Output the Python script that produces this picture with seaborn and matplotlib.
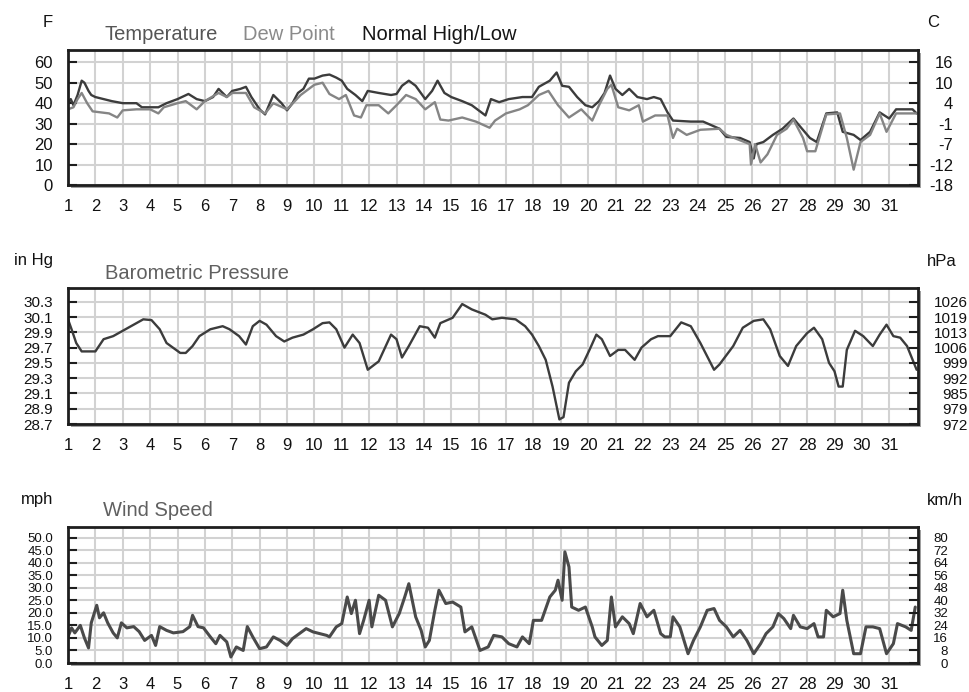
import numpy as np
import pandas as pd
import matplotlib
matplotlib.use("Agg")
import matplotlib.pyplot as plt
from matplotlib.patches import Rectangle
from matplotlib.ticker import FixedLocator, FuncFormatter
import seaborn as sns

# ---------------------------------------------------------------- data
days = list(range(1, 32))

temp_day = [1.0, 1.1, 1.2, 1.35, 1.5, 1.6, 1.75, 1.85, 2.0, 2.3, 2.6, 3.0, 3.5, 3.7, 4.0,
            4.3, 4.6, 5.0, 5.4, 5.7, 6.0, 6.3, 6.5, 6.8, 7.0, 7.3, 7.5, 7.7, 8.0, 8.2,
            8.5, 8.8, 9.0, 9.2, 9.4, 9.6, 9.8, 10.0, 10.3, 10.55, 10.8, 11.0, 11.2, 11.5,
            11.75, 11.95, 12.35, 12.8, 13.0, 13.2, 13.45, 13.7, 14.05, 14.3, 14.5, 14.75,
            15.0, 15.4, 15.75, 16.25, 16.45, 16.75, 17.1, 17.6, 17.95, 18.2, 18.6, 18.85,
            19.05, 19.3, 19.6, 19.9, 20.15, 20.4, 20.6, 20.8, 21.0, 21.25, 21.5, 21.8,
            22.15, 22.4, 22.65, 22.9, 23.1, 23.75, 24.2, 24.8, 25.05, 25.55, 25.9, 26.05,
            26.15, 26.4, 26.75, 27.1, 27.5, 27.75, 28.1, 28.35, 28.7, 29.1, 29.3, 29.7,
            29.95, 30.3, 30.65, 31.0, 31.25, 31.85, 32.0]
temp_f = [40, 42, 39, 44, 51, 50, 46, 44, 43, 42, 41, 40, 40, 38, 38,
          38, 40, 42, 44.5, 42, 41, 43, 47, 43, 46, 47, 48, 43, 37, 34.5,
          44, 40, 36.5, 40, 45, 47, 52, 52, 53.5, 54, 52.5, 51, 47, 44,
          41, 46, 45, 44, 44.5, 48.5, 51, 48.5, 42, 46, 51, 45,
          43, 41, 39, 34, 42, 40.5, 42, 43, 43, 48, 51, 55,
          48.5, 48, 43, 39, 38, 41, 45, 53.5, 47, 44, 47, 43,
          42, 43, 42, 35.5, 31.5, 31, 31, 27.5, 23.5, 23, 21, 13,
          20, 21, 24.5, 27.5, 32.5, 28.5, 23, 21, 35, 35.5, 26, 24.5,
          22, 26, 35.5, 32.5, 37, 37, 35]

dew_day = [1.0, 1.2, 1.35, 1.5, 1.7, 1.9, 2.5, 2.8, 3.0, 3.5, 4.0, 4.3, 4.5, 5.0, 5.3,
           5.7, 6.0, 6.5, 6.8, 7.0, 7.5, 7.8, 8.2, 8.5, 9.0, 9.5, 10.0, 10.3, 10.55,
           10.9, 11.15, 11.45, 11.7, 11.9, 12.35, 12.7, 13.0, 13.35, 13.7, 14.05, 14.4,
           14.6, 14.9, 15.4, 15.9, 16.4, 16.6, 17.0, 17.5, 17.8, 18.2, 18.55, 18.9, 19.3,
           19.75, 20.15, 20.4, 20.7, 20.85, 21.1, 21.5, 21.85, 22.0, 22.45, 22.9, 23.1,
           23.25, 23.6, 24.1, 24.8, 25.05, 25.9, 25.95, 26.1, 26.3, 26.55, 26.9, 27.25,
           27.5, 27.85, 28.0, 28.3, 28.7, 29.2, 29.45, 29.7, 29.95, 30.3, 30.65, 30.9,
           31.25, 32.0]
dew_f = [37, 38, 42, 45, 40, 36, 35, 33, 36.5, 37, 37, 35, 38, 40, 41,
         37, 41, 45, 43, 45, 45, 38, 35, 40, 37, 44, 49, 50, 44.5,
         42, 44, 34, 33, 39, 39, 35, 39, 44, 42, 37, 40.5,
         32, 31.5, 33, 31, 28, 31.5, 35, 37, 39, 44, 46, 39, 33,
         37, 31.5, 39, 47, 49, 38, 36.5, 39, 31, 34, 34, 23,
         27.5, 24.5, 27, 27.5, 24.5, 20, 10, 20, 11, 15, 24.5, 27.5,
         32, 23, 16.5, 16.5, 34.5, 35, 23, 7.5, 21, 24.5, 35, 26,
         35, 35]

pres_day = [1.0, 1.13, 1.3, 1.5, 2.0, 2.3, 2.65, 3.0, 3.4, 3.75, 4.05, 4.35, 4.6, 5.1,
            5.3, 5.55, 5.8, 6.2, 6.65, 6.9, 7.25, 7.5, 7.75, 8.0, 8.25, 8.6, 8.9, 9.2,
            9.6, 9.95, 10.3, 10.55, 10.8, 11.1, 11.4, 11.65, 11.95, 12.35, 12.8, 13.0,
            13.2, 13.45, 13.85, 14.15, 14.4, 14.6, 15.05, 15.4, 15.75, 16.25, 16.5,
            16.85, 17.35, 17.7, 17.95, 18.2, 18.45, 18.7, 18.95, 19.1, 19.3, 19.55, 19.8,
            20.05, 20.3, 20.5, 20.8, 21.1, 21.35, 21.7, 21.95, 22.3, 22.55, 23.0, 23.4,
            23.75, 24.1, 24.6, 24.8, 25.3, 25.65, 26.05, 26.4, 26.65, 27.0, 27.3, 27.6,
            28.0, 28.25, 28.55, 28.8, 29.0, 29.15, 29.3, 29.45, 29.75, 30.05, 30.4,
            30.65, 30.9, 31.15, 31.4, 31.65, 32.0]
pres_inhg = [30.07, 29.94, 29.76, 29.65, 29.65, 29.81, 29.85, 29.92, 30.00, 30.07, 30.06,
             29.94, 29.76, 29.63, 29.63, 29.72, 29.85, 29.94, 29.98, 29.94, 29.85, 29.74,
             29.98, 30.05, 30.00, 29.85, 29.78, 29.83, 29.87, 29.94, 30.02, 30.03, 29.94,
             29.70, 29.87, 29.76, 29.41, 29.52, 29.87, 29.81, 29.57, 29.72, 29.98, 29.96,
             29.83, 30.02, 30.09, 30.27, 30.20, 30.13, 30.07, 30.09, 30.07, 29.98, 29.87,
             29.72, 29.54, 29.19, 28.76, 28.79, 29.24, 29.39, 29.48, 29.67, 29.87, 29.81,
             29.59, 29.67, 29.67, 29.54, 29.70, 29.81, 29.85, 29.85, 30.03, 29.98, 29.76,
             29.41, 29.48, 29.72, 29.96, 30.05, 30.07, 29.94, 29.59, 29.46, 29.72, 29.89,
             29.96, 29.81, 29.50, 29.39, 29.19, 29.19, 29.67, 29.92, 29.85, 29.72, 29.87,
             30.00, 29.85, 29.83, 29.72, 29.41]

wind_day = [1.0, 1.13, 1.25, 1.45, 1.6, 1.75, 1.85, 2.05, 2.15, 2.3, 2.45, 2.65, 2.8,
            2.95, 3.15, 3.4, 3.6, 3.8, 4.05, 4.2, 4.35, 4.6, 4.85, 5.2, 5.45, 5.55, 5.75,
            5.95, 6.2, 6.4, 6.55, 6.8, 6.95, 7.15, 7.4, 7.55, 7.75, 8.0, 8.25, 8.5, 8.75,
            9.0, 9.2, 9.45, 9.7, 9.95, 10.2, 10.45, 10.55, 10.8, 11.0, 11.2, 11.35, 11.5,
            11.65, 11.8, 12.0, 12.1, 12.35, 12.6, 12.85, 13.1, 13.3, 13.45, 13.7, 13.9,
            14.05, 14.2, 14.4, 14.55, 14.8, 15.05, 15.35, 15.5, 15.75, 16.05, 16.35,
            16.55, 16.85, 17.1, 17.4, 17.6, 17.85, 18.0, 18.3, 18.6, 18.8, 18.9, 19.05,
            19.15, 19.3, 19.4, 19.65, 19.9, 20.15, 20.25, 20.5, 20.7, 20.85, 21.0, 21.25,
            21.5, 21.65, 21.9, 22.15, 22.4, 22.65, 22.8, 23.0, 23.1, 23.35, 23.65, 23.85,
            24.1, 24.35, 24.6, 24.8, 25.05, 25.3, 25.55, 25.8, 26.05, 26.3, 26.5, 26.75,
            26.95, 27.15, 27.4, 27.5, 27.75, 28.0, 28.25, 28.4, 28.6, 28.7, 28.95, 29.2,
            29.3, 29.45, 29.7, 29.95, 30.15, 30.4, 30.65, 30.9, 31.15, 31.3, 31.6, 31.8,
            31.95]
wind_mph = [10.4, 14, 12, 15, 10, 6, 16, 23, 18, 20, 16, 12, 10,
            16, 14, 14.5, 12.5, 9, 11, 7, 14.5, 13, 12, 12.5, 14.5, 19, 14.5,
            14, 10.4, 7.7, 11, 8.4, 2.4, 6.4, 5, 14.5, 10.4, 5.7, 6.4, 10.4, 9,
            7, 9.7, 11.7, 13.7, 12.4, 11.7, 11, 10.4, 14.4, 15.7, 26.3, 19.7, 25,
            11.7, 17, 25, 14.4, 27, 25, 14.4, 19.7, 26.3, 31.6, 18.4, 13,
            6.4, 9, 21, 29, 23.7, 24.3, 22.3, 12.4, 14.4, 5, 6.4,
            11, 10.4, 7.7, 6.4, 10.4, 7.7, 17, 17, 26.3, 29, 33, 25,
            44.3, 38.3, 22.3, 21, 22.3, 14.4, 10.4, 7, 9, 26.3, 14.4, 18.4,
            15.7, 11.7, 23.7, 18.4, 21, 11.7, 10.4, 10.4, 18.4, 14.4, 3.7, 9,
            14.4, 21, 21.7, 17, 14.4, 10.4, 13, 9, 3.7, 7.7, 11.7, 14.4,
            19.7, 17.7, 13.7, 19, 14.4, 13.7, 15.7, 10.4, 10.4, 21, 18.4, 19.7,
            29, 17, 3.7, 3.7, 14.4, 14.4, 13.7, 3.7, 7.7, 15.7, 14.4, 13,
            22.3]

temp_ticks = [0, 10, 20, 30, 40, 50, 60]
pres_ticks = [28.7, 28.9, 29.1, 29.3, 29.5, 29.7, 29.9, 30.1, 30.3]
wind_ticks = [0, 5, 10, 15, 20, 25, 30, 35, 40, 45, 50]

temp_df = pd.DataFrame({"day": temp_day, "value": temp_f})
dew_df = pd.DataFrame({"day": dew_day, "value": dew_f})
pres_df = pd.DataFrame({"day": pres_day, "value": pres_inhg})
wind_df = pd.DataFrame({"day": wind_day, "value": wind_mph})

# ---------------------------------------------------------------- style
sns.set_theme(style="white")
plt.rcParams["font.family"] = ["Liberation Sans", "DejaVu Sans"]

W, H = 970, 692
fig = plt.figure(figsize=(W / 100, H / 100), dpi=100)
fig.patch.set_facecolor("white")

SPINE = "#1e1e1e"
GRID = "#d2d2d2"


def panel(left, top, right, bottom, ylim, ticks, left_fmt, right_fmt, right_pad, ysize):
    # grey drop shadow behind the framed plot area
    fig.patches.append(Rectangle(((left + 3) / W, 1 - (bottom + 3) / H),
                                 (right - left) / W, (bottom - top) / H,
                                 transform=fig.transFigure, facecolor="#a0a0a0",
                                 edgecolor="none", zorder=0.5))
    ax = fig.add_axes([left / W, 1 - bottom / H, (right - left) / W, (bottom - top) / H])
    ax.set_zorder(1)
    ax.set_facecolor("white")
    ax.set_xlim(1, 32.05)
    ax.set_ylim(*ylim)
    ax.xaxis.set_major_locator(FixedLocator(days))
    ax.set_xticklabels([str(d) for d in days])
    ax.yaxis.set_major_locator(FixedLocator(ticks))
    ax.yaxis.set_major_formatter(FuncFormatter(left_fmt))
    ax.grid(True, color=GRID, lw=1.5)
    ax.set_axisbelow(True)
    for s in ax.spines.values():
        s.set_color(SPINE)
        s.set_linewidth(2)
    ax.tick_params(axis="y", direction="in", length=6.5, width=1.5, color=SPINE,
                   pad=10.8, labelsize=ysize, labelcolor="#111111")
    ax.tick_params(axis="x", direction="in", length=4.3, width=1.5, color=SPINE,
                   pad=10, labelsize=12, labelcolor="#111111")

    ax2 = ax.twinx()
    ax2.set_ylim(*ylim)
    ax2.yaxis.set_major_locator(FixedLocator(ticks))
    ax2.yaxis.set_major_formatter(FuncFormatter(right_fmt))
    for s in ax2.spines.values():
        s.set_visible(False)
    ax2.tick_params(axis="y", direction="in", length=6.5, width=1.5, color=SPINE,
                    pad=right_pad, labelsize=ysize, labelcolor="#111111")
    for lbl in ax2.get_yticklabels():
        lbl.set_horizontalalignment("right")
    ax2.grid(False)
    return ax


def tidy(ax):
    ax.set_xlabel("")
    ax.set_ylabel("")


# Temperature panel
ax_t = panel(68, 50, 918, 185, (0, 66), temp_ticks,
             lambda v, p: f"{v:.0f}",
             lambda v, p: f"{round((v - 32) * 5 / 9):.0f}", 25.2, 12)
sns.lineplot(data=temp_df, x="day", y="value", ax=ax_t, color="#3c3c3c", lw=1.7,
             estimator=None, sort=False)
sns.lineplot(data=dew_df, x="day", y="value", ax=ax_t, color="#858585", lw=1.7,
             estimator=None, sort=False)
tidy(ax_t)

# Pressure panel
ax_p = panel(68, 288, 918, 424, (28.7, 30.48), pres_ticks,
             lambda v, p: f"{v:.1f}",
             lambda v, p: f"{round(v * 33.8639):.0f}", 36, 11)
sns.lineplot(data=pres_df, x="day", y="value", ax=ax_p, color="#3c3c3c", lw=1.7,
             estimator=None, sort=False)
tidy(ax_p)

# Wind panel
ax_w = panel(68, 527, 918, 663, (0, 54.2), wind_ticks,
             lambda v, p: f"{v:.1f}",
             lambda v, p: f"{round(v * 1.609344):.0f}", 21.6, 9.5)
sns.lineplot(data=wind_df, x="day", y="value", ax=ax_w, color="#4a4a4a", lw=2.2,
             estimator=None, sort=False)
tidy(ax_w)


# ---------------------------------------------------------------- titles and units
def ftext(x, y, s, color="#111111", size=12, ha="left"):
    fig.text(x / W, 1 - y / H, s, color=color, fontsize=size, ha=ha, va="baseline")


TS = 14.5
ftext(105, 40, "Temperature", "#555555", TS)
ftext(243, 40, "Dew Point", "#8a8a8a", TS)
ftext(362, 40, "Normal High/Low", "#151515", TS)
ftext(105, 279, "Barometric Pressure", "#606060", TS)
ftext(103, 516, "Wind Speed", "#606060", TS)

ftext(53, 27, "F", ha="right")
ftext(927, 27, "C")
ftext(53, 265, "in Hg", ha="right")
ftext(927, 266, "hPa")
ftext(53, 504, "mph", ha="right")
ftext(927, 505, "km/h")

fig.savefig("out.png", dpi=100, facecolor="white")
